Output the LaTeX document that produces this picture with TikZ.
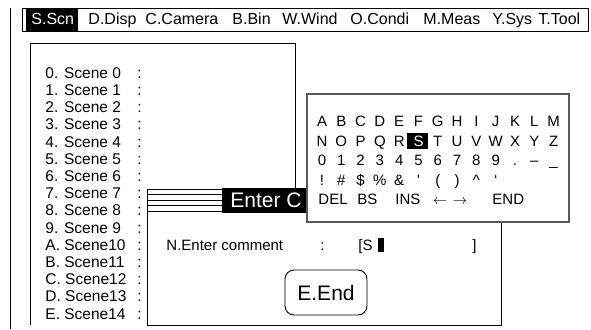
\documentclass[tikz,border=0pt]{standalone}
\usepackage{fontspec}
\setmainfont{Liberation Sans}
\usetikzlibrary{positioning}
\tikzset{
  menu/.style={font=\fontsize{16}{18}\selectfont, anchor=base west, inner sep=0pt},
  scenerow/.style={font=\fontsize{15.5}{17}\selectfont, anchor=base west, inner sep=0pt},
  keychar/.style={font=\fontsize{15}{17}\selectfont, anchor=base, inner sep=0pt},
  keyword/.style={font=\fontsize{15}{17}\selectfont, anchor=base west, inner sep=0pt},
  bigtext/.style={font=\fontsize{21}{23}\selectfont, inner sep=0pt},
}

\begin{document}
\begin{tikzpicture}[x=1pt,y=-1pt,line width=0.9pt]
    \useasboundingbox (0,0) rectangle (591,329);
    % menu bar
    \begin{scope}
      \draw (10,8) -- (10,329);
      \draw (22,8) rectangle (588,31);
      \fill (26,8) rectangle (78,31);
      \node[menu,text=white] (mscn) at (31,25) {S.Scn};
      \node[menu] (mdisp) at (88,25) {D.Disp};
      \node[menu] (mcam) at (145,25) {C.Camera};
      \node[menu] (mbin) at (232,25) {B.Bin};
      \node[menu] (mwind) at (282,25) {W.Wind};
      \node[menu] (mcondi) at (350,25) {O.Condi};
      \node[menu] (mmeas) at (423,25) {M.Meas};
      \node[menu] (msys) at (492,25) {Y.Sys};
      \node[menu] (mtool) at (538,25) {T.Tool};
    \end{scope}
    % scene list
    \begin{scope}
      \draw (30,325) -- (30,43) -- (295,43) -- (295,189);
      \foreach \lbl/\num [count=\i from 0] in {0/0,1/1,2/2,3/3,4/4,5/5,6/6,7/7,8/8,9/9,
          A/10,B/11,C/12,D/13,E/14} {
        \ifnum\num<10
          \node[scenerow] (sc\i) at (45,78.3+17.2*\i) {\lbl. Scene \num};
        \else
          \node[scenerow] (sc\i) at (45,78.3+17.2*\i) {\lbl. Scene\num};
        \fi
        \node[scenerow] (co\i) at (137,78.3+17.2*\i) {:};
      }
    \end{scope}
    % comment dialog
    \begin{scope}
      \draw[fill=white] (147,189) rectangle (501,325);
      \draw (147,194.5) -- (222,194.5);
      \draw (147,200) -- (222,200);
      \draw (147,205.5) -- (222,205.5);
      \draw (147,211) -- (222,211);
      \fill (222,188) rectangle (307,213);
      \node[bigtext,text=white,anchor=base west] (title) at (230,207.7) {Enter C};
      \node[keyword] (cmt) at (166,250) {N.Enter comment};
      \node[keyword] (cmtco) at (320,250) {:};
      \node[keyword] (cmtin) at (358,250) {[S};
      \fill (378,238) rectangle (384,252);
      \node[keyword] (cmtend) at (472,250) {]};
      \draw[rounded corners=9pt] (285,270) rectangle (367,315);
      \node[bigtext] (endbtn) at (326,292.5) {E.End};
    \end{scope}
    % keyboard
    \begin{scope}
      \draw[gray!70!black,line width=1.2pt,fill=white] (307,94) rectangle (569,222);
      \foreach \ch [count=\i from 0] in {A,B,C,D,E,F,G,H,I,J,K,L,M}
        \node[keychar] (ka\i) at (322+19.3*\i,126.7) {\ch};
      \fill (407,133) rectangle (428,149);
      \node[keychar,text=white] (kb5) at (418.5,146.2) {S};
      \foreach \ch/\i in {N/0,O/1,P/2,Q/3,R/4,T/6,U/7,V/8,W/9,X/10,Y/11,Z/12}
        \node[keychar] (kb\i) at (322+19.3*\i,146.2) {\ch};
      \foreach \ch [count=\i from 0] in {0,1,2,3,4,5,6,7,8,9,.,\textendash,\_}
        \node[keychar] (kc\i) at (322+19.3*\i,165.7) {\ch};
      \foreach \ch [count=\i from 0] in {!,\#,\$,\%,\&,\textquotesingle,{(},{)},\textasciicircum,`}
        \node[keychar] (kd\i) at (322+19.3*\i,185.2) {\ch};
      \node[keyword] (kdel) at (318,204.7) {DEL};
      \node[keyword] (kbs) at (357,204.7) {BS};
      \node[keyword] (kins) at (395,204.7) {INS};
      \node[keychar] (kleft) at (440,204.7) {$\leftarrow$};
      \node[keychar] (kright) at (460,204.7) {$\rightarrow$};
      \node[keyword] (kend) at (492,204.7) {END};
    \end{scope}
  \end{tikzpicture}
\end{document}
